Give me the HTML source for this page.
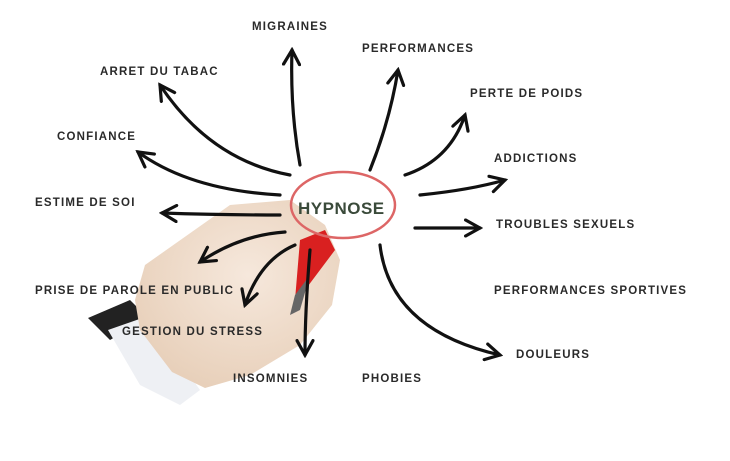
<!DOCTYPE html>
<html><head><style>
body{margin:0;width:730px;height:456px;background:#fff;overflow:hidden}
svg text{font-family:"Liberation Sans",sans-serif;font-weight:bold;font-size:11.5px;letter-spacing:1.2px;fill:#2a2a2a}
</style></head><body>
<svg width="730" height="456" viewBox="0 0 730 456">
<defs>
<marker id="a" viewBox="0 0 12 12" refX="10" refY="6" markerWidth="6" markerHeight="6" orient="auto" markerUnits="strokeWidth">
<path d="M1,1 L10,6 L1,11" fill="none" stroke="#111" stroke-width="2" stroke-linecap="round"/>
</marker>
<radialGradient id="sk" cx="0.55" cy="0.4" r="0.7"><stop offset="0" stop-color="#f6e8dc"/><stop offset="1" stop-color="#e6cdb6"/></radialGradient>
</defs>
<!-- hand -->
<path d="M88,318 L130,300 L148,318 L110,340 Z" fill="#222"/>
<path d="M108,330 L148,316 L200,390 L180,405 L140,385 Z" fill="#eef0f4"/>
<path d="M145,265 L230,205 L290,200 L325,225 L340,260 L332,305 L300,345 L250,375 L205,388 L172,372 L140,330 L135,300 Z" fill="url(#sk)"/>
<path d="M300,240 L325,230 L335,250 L320,270 L305,290 L295,300 Z" fill="#d92020"/>
<path d="M295,295 L310,275 L300,310 L290,315 Z" fill="#666"/>
<!-- arrows -->
<g fill="none" stroke="#111" stroke-width="3.2" stroke-linecap="round" marker-end="url(#a)">
<path d="M300,165 Q290,110 292,50"/>
<path d="M370,170 Q390,120 398,70"/>
<path d="M405,175 Q450,160 465,115"/>
<path d="M420,195 Q470,190 505,180"/>
<path d="M415,228 Q450,228 480,228"/>
<path d="M380,245 Q390,330 500,355"/>
<path d="M290,175 Q210,160 160,85"/>
<path d="M280,195 Q190,190 138,152"/>
<path d="M280,215 Q220,215 162,213"/>
<path d="M285,232 Q240,235 200,262"/>
<path d="M295,245 Q260,260 245,305"/>
<path d="M310,250 Q305,310 305,355"/>
</g>
<ellipse cx="343" cy="205" rx="52" ry="33" fill="none" stroke="#d66" stroke-width="2.5"/>
<text x="298" y="214" style="font-size:17px;letter-spacing:0.5px;fill:#3a4a3a">HYPNOSE</text>
<text x="252" y="30">MIGRAINES</text>
<text x="362" y="52">PERFORMANCES</text>
<text x="470" y="97">PERTE DE POIDS</text>
<text x="494" y="162">ADDICTIONS</text>
<text x="496" y="228">TROUBLES SEXUELS</text>
<text x="494" y="294">PERFORMANCES SPORTIVES</text>
<text x="516" y="358">DOULEURS</text>
<text x="100" y="75">ARRET DU TABAC</text>
<text x="57" y="140">CONFIANCE</text>
<text x="35" y="206">ESTIME DE SOI</text>
<text x="35" y="294">PRISE DE PAROLE EN PUBLIC</text>
<text x="122" y="335">GESTION DU STRESS</text>
<text x="233" y="382">INSOMNIES</text>
<text x="362" y="382">PHOBIES</text>
</svg>
</body></html>
